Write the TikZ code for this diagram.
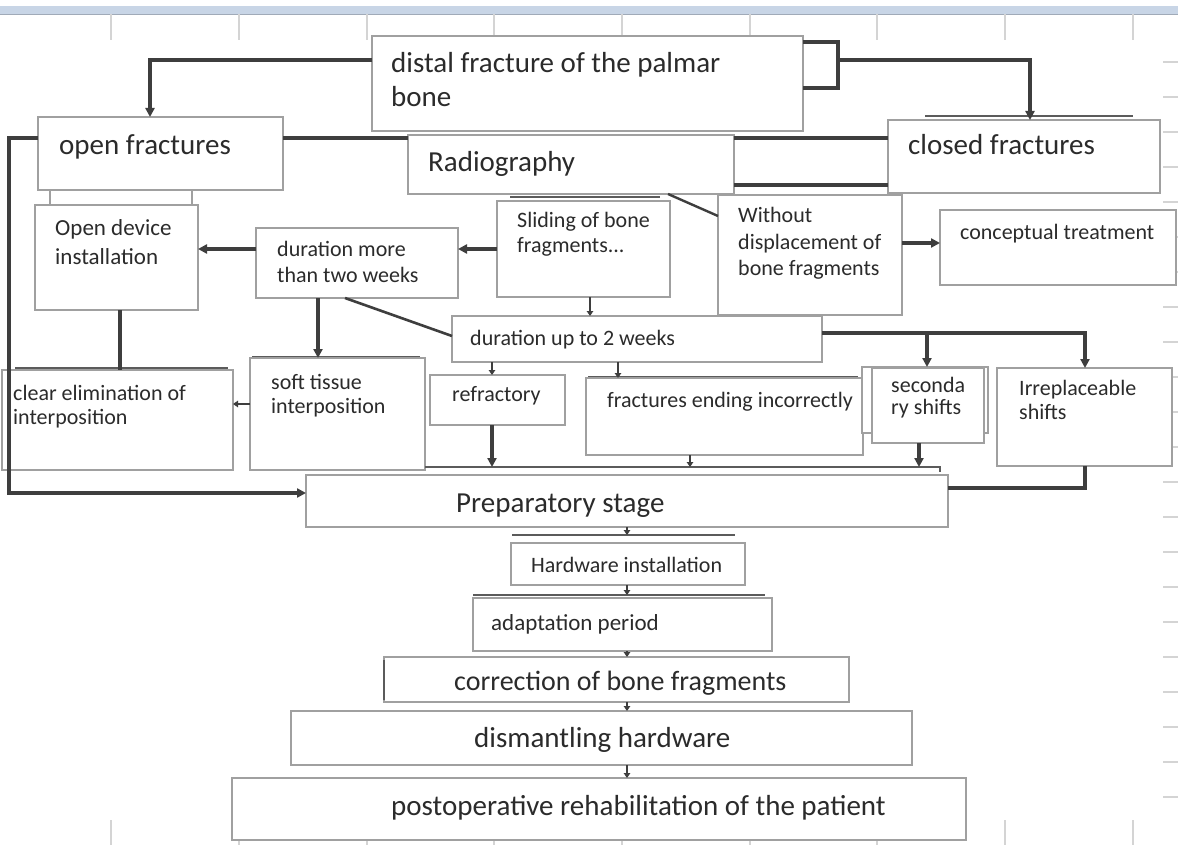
\documentclass[tikz,border=0pt]{standalone}
\usepackage{fontspec}
\setmainfont{Carlito}
\usetikzlibrary{arrows.meta}
\definecolor{boxc}{HTML}{A0A0A0}
\definecolor{linec}{HTML}{3E3E3E}
\definecolor{textc}{HTML}{2B2B2B}
\definecolor{gridc}{HTML}{D4D4D4}
\definecolor{bandc}{HTML}{C8D5E6}
\newcommand\fBig{\fontsize{29}{34}\selectfont}
\newcommand\fCor{\fontsize{28}{33}\selectfont}
\newcommand\fMid{\fontsize{22}{26}\selectfont}
\newcommand\fMidb{\fontsize{23}{27}\selectfont}
\newcommand\mybox[5]{\node[box,minimum width={(#4-#2)*1pt},minimum height={(#5-#3)*1pt}] (#1) at (#2,#3) {};}
\newcommand\mytx[5]{\node[txt,font=#4] (#1) at (#2,#3) {#5};}
\begin{document}
\begin{tikzpicture}[x=1pt,y=-1pt,
 box/.style={draw=boxc,line width=1.6pt,fill=white,inner sep=0pt,outer sep=0pt,anchor=north west},
 txt/.style={text=textc,inner sep=0pt,anchor=base west},
 conn/.style={draw=linec,line width=3.1pt},
 arr/.style={conn,-{Triangle[length=9pt,width=9pt]}},
 sarr/.style={conn,line width=2.4pt,-{Triangle[length=5pt,width=6.5pt]}},
 shadowln/.style={draw=linec!85,line width=2.4pt},
 gridln/.style={draw=gridc,line width=1.2pt}]
\useasboundingbox (0,0) rectangle (1178,845);
\fill[white] (0,0) rectangle (1178,845);
% spreadsheet background
\fill[bandc] (0,6) rectangle (1178,14);
\draw[draw=bandc!80!black,line width=0.8pt] (0,14) -- (1178,14);
\foreach \x in {111,239,367,494,622,750,877,1005,1133} {
  \draw[gridln] (\x,14) -- (\x,40);
  \draw[gridln] (\x,820) -- (\x,845);
}
\foreach \y in {62,97,...,800} \draw[gridln] (1163,\y) -- (1178,\y);

% boxes
\mybox{dist}{372}{36}{803}{131}
\mybox{oper}{50}{186}{192}{210}
\mybox{open}{38}{117}{283}{190}
\draw[shadowln] (925,116) -- (1133,116);
\mybox{closed}{888}{120}{1160}{193}
\mybox{radio}{408}{135}{734}{194}
\mybox{opendev}{35}{205}{198}{310}
\mybox{dur2}{256}{228}{458}{298}
\draw[shadowln] (510,197) -- (660,197);
\mybox{slide}{497}{201}{670}{297}
\mybox{without}{718}{195}{902}{315}
\mybox{concept}{940}{210}{1176}{285}
\mybox{durup}{452}{316}{822}{362}
\draw[shadowln] (15,368) -- (228,368);
\mybox{clear}{2}{370}{233}{470}
\draw[shadowln] (252,357) -- (420,357);
\mybox{soft}{250}{358}{425}{470}
\mybox{refr}{430}{375}{565}{425}
\draw[shadowln] (588,377) -- (858,377);
\mybox{fract}{586}{378}{863}{455}
\mybox{secbg}{862}{367}{988}{433}
\mybox{sec}{872}{368}{984}{443}
\mybox{irr}{997}{368}{1172}{466}
\draw[shadowln] (425,467) -- (940,467) -- (940,472);
\mybox{prep}{306}{475}{948}{527}
\draw[shadowln] (512,535) -- (735,535);
\mybox{hw}{511}{543}{745}{585}
\draw[shadowln] (473,595) -- (765,595);
\mybox{adapt}{473}{598}{772}{651}
\mybox{corr}{384}{657}{849}{702}
\draw[shadowln] (384,660) -- (384,700);
\mybox{dism}{291}{711}{912}{765}
\mybox{post}{232}{778}{966}{840}

% texts
\mytx{t1a}{391}{73}{\fBig}{distal fracture of the palmar}
\mytx{t1b}{391}{107}{\fBig}{bone}
\mytx{t2}{59}{155}{\fBig}{open fractures}
\mytx{t3}{908}{155}{\fBig}{closed fractures}
\mytx{t4}{428}{172}{\fBig}{Radiography}
\mytx{t5a}{55}{236}{\fMidb}{Open device}
\mytx{t5b}{55}{265}{\fMidb}{installation}
\mytx{t6a}{277}{257}{\fMid}{duration more}
\mytx{t6b}{277}{282}{\fMid}{than two weeks}
\mytx{t7a}{517}{228}{\fMid}{Sliding of bone}
\mytx{t7b}{517}{253}{\fMid}{fragments...}
\mytx{t8a}{738}{223}{\fMid}{Without}
\mytx{t8b}{738}{250}{\fMid}{displacement of}
\mytx{t8c}{738}{275}{\fMid}{bone fragments}
\mytx{t9}{960}{240}{\fMid}{conceptual treatment}
\mytx{t10}{470}{345}{\fMid}{duration up to 2 weeks}
\mytx{t11a}{13}{400}{\fMid}{clear elimination of}
\mytx{t11b}{13}{424}{\fMid}{interposition}
\mytx{t12a}{271}{389}{\fMid}{soft tissue}
\mytx{t12b}{271}{413}{\fMid}{interposition}
\mytx{t13}{452}{401}{\fMid}{refractory}
\mytx{t14}{607}{407}{\fMid}{fractures ending incorrectly}
\mytx{t15a}{891}{392}{\fMid}{seconda}
\mytx{t15b}{891}{414}{\fMid}{ry shifts}
\mytx{t16a}{1019}{395}{\fMid}{Irreplaceable}
\mytx{t16b}{1019}{419}{\fMid}{shifts}
\mytx{t17}{456}{512}{\fBig}{Preparatory stage}
\mytx{t18}{531}{572}{\fMid}{Hardware installation}
\mytx{t19}{491}{630}{\fMidb}{adaptation period}
\mytx{t20}{454}{690}{\fCor}{correction of bone fragments}
\mytx{t21}{474}{747}{\fBig}{dismantling hardware}
\mytx{t22}{391}{815}{\fBig}{postoperative rehabilitation of the patient}

% connectors
\coordinate (brk) at (838,60);
\coordinate (lft) at (9,300);
\coordinate (jn) at (927,333);
\draw[arr] (dist.west |- 0,60) -| (open.north -| 150,0);
\draw[conn] (dist.east |- 0,42) -- (838,42) -- (838,88) -- (dist.east |- 0,88);
\draw[arr] (brk) -| (closed.north -| 1030,0);
\draw[conn] (open.east |- 0,138) -- (radio.west |- 0,138);
\draw[conn] (radio.east |- 0,138) -- (closed.west |- 0,138);
\draw[conn] (radio.east |- 0,185) -- (closed.west |- 0,185);
\draw[arr] (open.west |- 0,138) -| (lft) |- (prep.west |- 0,493);
\draw[arr] (dur2.west |- 0,249) -- (opendev.east |- 0,249);
\draw[arr] (slide.west |- 0,249) -- (dur2.east |- 0,249);
\draw[arr] (without.east |- 0,243) -- (concept.west |- 0,243);
\draw[conn,line width=2.4pt] (radio.south -| 668,0) -- (without.west |- 0,216);
\draw[sarr] (slide.south -| 590,0) -- (durup.north -| 590,0);
\draw[conn,line width=2.6pt] (dur2.south -| 345,0) -- (durup.west |- 0,336);
\draw[arr] (dur2.south -| 318,0) -- (soft.north -| 318,0);
\draw[conn] (opendev.south -| 120,0) -- (clear.north -| 120,0);
\draw[sarr] (soft.west |- 0,404) -- (clear.east |- 0,404);
\draw[sarr] (durup.south -| 492,0) -- (refr.north -| 492,0);
\draw[sarr] (durup.south -| 618,0) -- (fract.north -| 618,0);
\draw[arr] (durup.east |- 0,333) -| (irr.north -| 1085,0);
\draw[arr] (jn) -- (secbg.north -| 927,0);
\draw[arr,shorten >=8pt] (refr.south -| 492,0) -- (prep.north -| 492,0);
\draw[sarr,shorten >=8pt] (fract.south -| 690,0) -- (prep.north -| 690,0);
\draw[arr,shorten >=8pt] (sec.south -| 919,0) -- (prep.north -| 919,0);
\draw[conn] (irr.south -| 1085,0) |- (prep.east |- 0,488);
\draw[sarr,shorten >=8pt] (prep.south -| 627,0) -- (hw.north -| 627,0);
\draw[sarr,shorten >=3pt] (hw.south -| 627,0) -- (adapt.north -| 627,0);
\draw[sarr] (adapt.south -| 627,0) -- (corr.north -| 627,0);
\draw[sarr] (corr.south -| 627,0) -- (dism.north -| 627,0);
\draw[sarr] (dism.south -| 627,0) -- (post.north -| 627,0);
\end{tikzpicture}
\end{document}
